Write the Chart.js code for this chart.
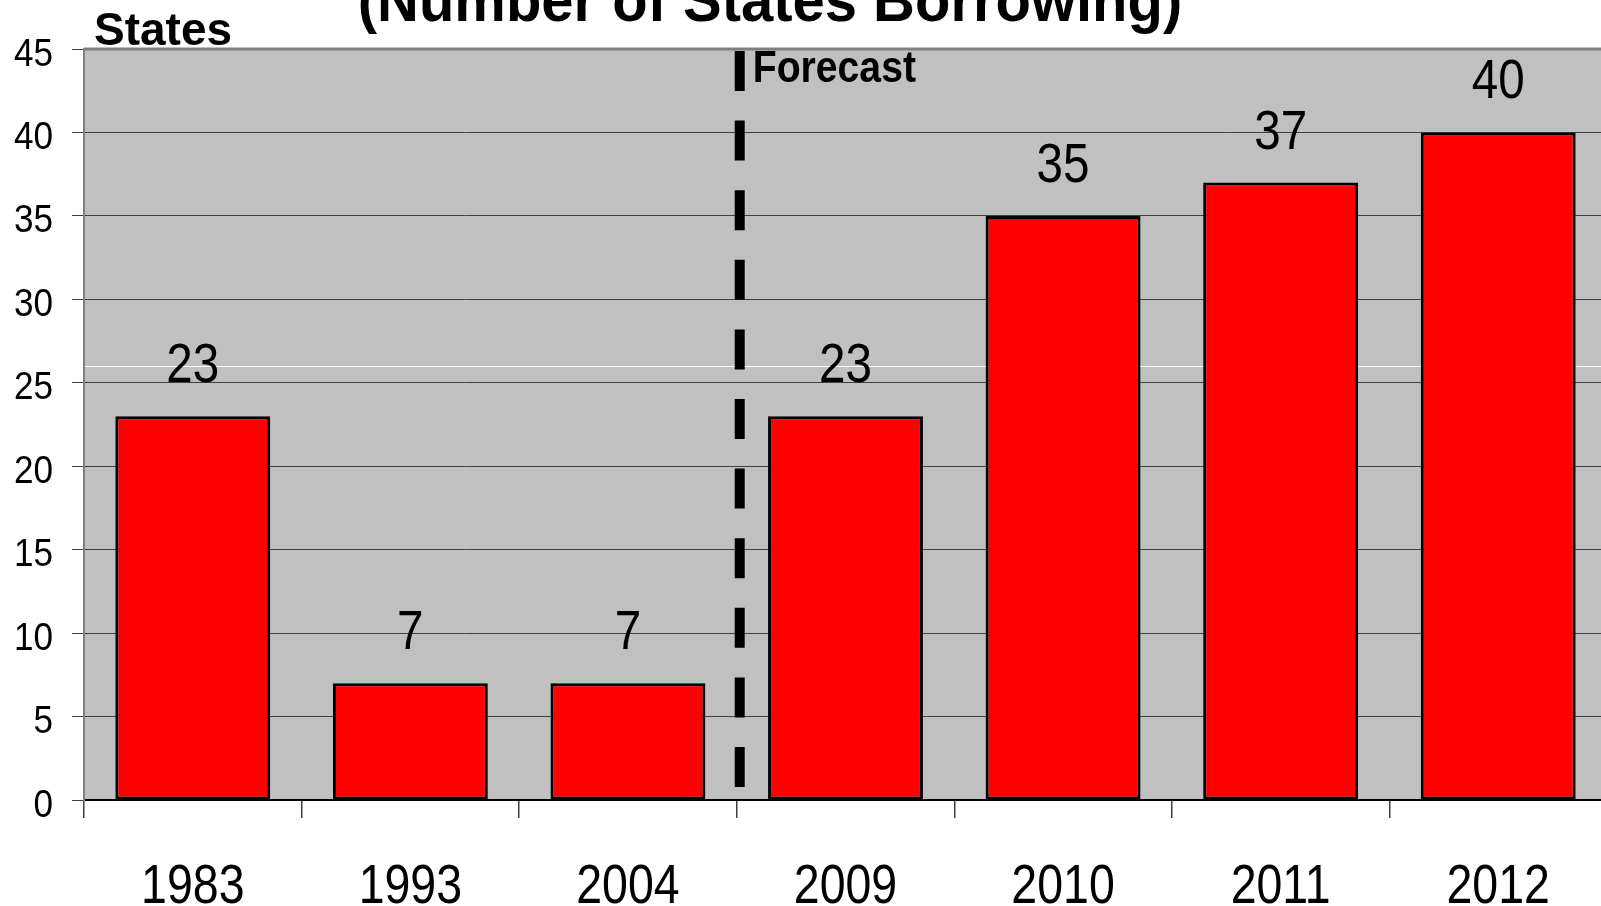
<!DOCTYPE html>
<html>
<head>
<meta charset="utf-8">
<script src="https://cdn.jsdelivr.net/npm/chart.js@4/dist/chart.umd.min.js"></script>
<style>
  html, body { margin: 0; padding: 0; background: #fff; overflow: hidden; }
  #wrap { width: 1601px; height: 906px; overflow: hidden; position: relative; }
  canvas { display: block; }
</style>
</head>
<body>
<div id="wrap"><canvas id="c" width="1607" height="906"></canvas></div>
<script>
// Number of states borrowing, by year (2009 onward is a forecast)
const years = ['1983', '1993', '2004', '2009', '2010', '2011', '2012'];
const statesBorrowing = [23, 7, 7, 23, 35, 37, 40];
const yMin = 0, yMax = 45, yStep = 5;
const forecastFrom = 3; // index of the first forecast year

const titleText = '(Number of States Borrowing)';
const axisTitle = 'States';
const forecastText = 'Forecast';

const SANS = '"Liberation Sans", Arial, sans-serif';

// draw text squeezed horizontally (condensed look)
function squeezed(ctx, text, x, y, sx, align) {
  ctx.save();
  ctx.translate(x, y);
  ctx.scale(sx, 1);
  ctx.textAlign = align;
  ctx.fillText(text, 0, 0);
  ctx.restore();
}

const decor = {
  id: 'decor',
  beforeDraw(chart) {
    const { ctx, chartArea: a } = chart;
    ctx.save();
    ctx.fillStyle = '#c0c0c0';
    ctx.fillRect(a.left, a.top, a.right - a.left, a.bottom - a.top);
    ctx.restore();
  },
  beforeDatasetsDraw(chart) {
    const { ctx, chartArea: a, scales } = chart;
    const y = Math.round(scales.y.getPixelForValue(26)) + 0.5;
    ctx.save();
    ctx.strokeStyle = '#ffffff';
    ctx.lineWidth = 1;
    ctx.beginPath();
    ctx.moveTo(a.left + 1, y);
    ctx.lineTo(a.right, y);
    ctx.stroke();
    ctx.restore();
  },
  afterDatasetsDraw(chart) {
    const { ctx, chartArea: a, scales } = chart;
    ctx.save();
    // plot frame (top edge)
    ctx.strokeStyle = '#808080';
    ctx.lineWidth = 3;
    ctx.beginPath();
    ctx.moveTo(a.left, a.top);
    ctx.lineTo(a.right, a.top);
    ctx.stroke();

    // forecast divider
    const fx = (scales.x.getPixelForTick(forecastFrom - 1) + scales.x.getPixelForTick(forecastFrom)) / 2 + 3;
    ctx.strokeStyle = '#000';
    ctx.lineWidth = 10;
    ctx.setLineDash([40, 29.6]);
    ctx.beginPath();
    ctx.moveTo(fx, a.top + 2);
    ctx.lineTo(fx, a.bottom - 13);
    ctx.stroke();
    ctx.setLineDash([]);

    ctx.fillStyle = '#000';
    ctx.textBaseline = 'alphabetic';
    ctx.font = 'bold 44px ' + SANS;
    squeezed(ctx, forecastText, fx + 13, a.top + 33, 0.89, 'left');

    // value labels
    const meta = chart.getDatasetMeta(0);
    ctx.font = '56px ' + SANS;
    meta.data.forEach((bar, i) => {
      squeezed(ctx, String(statesBorrowing[i]), bar.x, bar.y - 34, 0.85, 'center');
    });
    ctx.restore();
  },
  afterDraw(chart) {
    const { ctx, scales } = chart;
    ctx.save();
    ctx.fillStyle = '#000';
    ctx.textBaseline = 'alphabetic';

    // y tick labels
    ctx.font = '39px ' + SANS;
    scales.y.ticks.forEach(t => {
      const py = scales.y.getPixelForValue(t.value);
      squeezed(ctx, String(t.value), 53, py + 16.5, 0.9, 'right');
    });

    // x category labels
    ctx.font = '56px ' + SANS;
    years.forEach((yr, i) => {
      squeezed(ctx, yr, scales.x.getPixelForTick(i), 903, 0.83, 'center');
    });

    ctx.font = 'bold 62px ' + SANS;
    squeezed(ctx, titleText, 770, 21, 0.935, 'center');
    ctx.font = 'bold 46px ' + SANS;
    ctx.textAlign = 'left';
    ctx.fillText(axisTitle, 94, 45);
    ctx.restore();
  }
};

new Chart(document.getElementById('c'), {
  type: 'bar',
  data: {
    labels: years,
    datasets: [{
      data: statesBorrowing,
      backgroundColor: '#ff0000',
      borderColor: '#000000',
      borderWidth: 3,
      borderSkipped: false,
      barPercentage: 0.712,
      categoryPercentage: 1.0
    }]
  },
  options: {
    responsive: false,
    animation: false,
    devicePixelRatio: 1,
    layout: { padding: { top: 49, right: 0, bottom: 0, left: 0 } },
    plugins: { legend: { display: false }, tooltip: { enabled: false }, title: { display: false } },
    scales: {
      x: {
        afterFit(scale) { scale.height = 106; },
        grid: { offset: true, drawOnChartArea: false, tickLength: 18, color: '#404040', lineWidth: 1.5 },
        border: { display: true, color: '#000000', width: 2 },
        ticks: { display: false, maxRotation: 0 }
      },
      y: {
        min: yMin, max: yMax,
        afterFit(scale) { scale.width = 84; },
        grid: { color: '#404040', lineWidth: 1, tickLength: 12, tickColor: '#404040' },
        border: { display: true, color: '#808080', width: 2 },
        ticks: { stepSize: yStep, display: false }
      }
    }
  },
  plugins: [decor]
});
</script>
</body>
</html>
